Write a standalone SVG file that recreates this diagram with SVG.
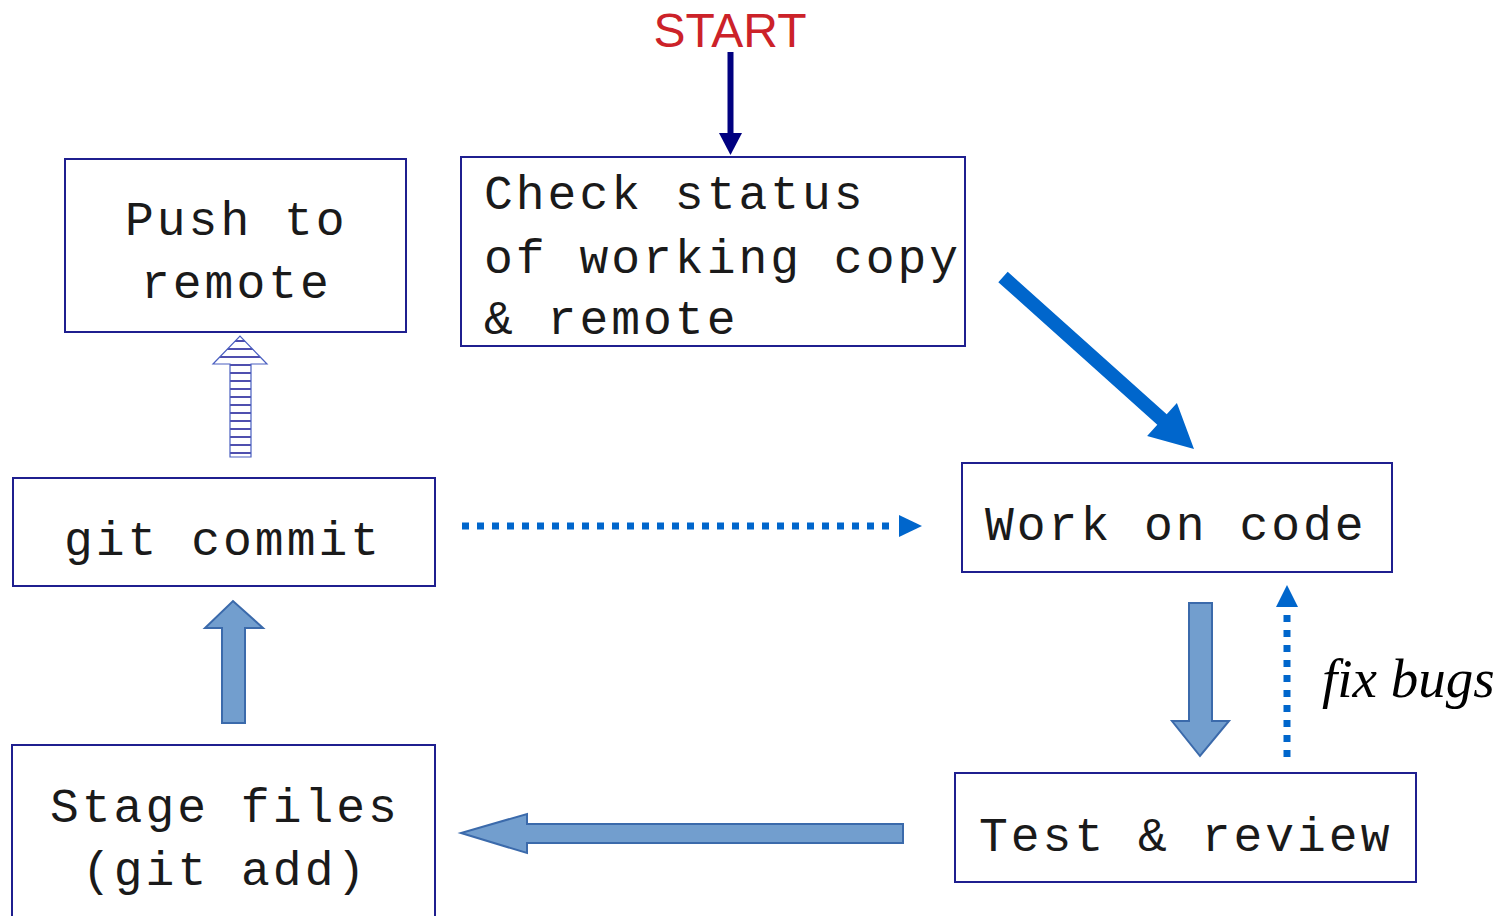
<svg xmlns="http://www.w3.org/2000/svg" width="1510" height="916" viewBox="0 0 1510 916">
  <style>
    .box { fill: #ffffff; stroke: #1f1f8f; stroke-width: 2; }
    .lbl { font-family: "Liberation Mono", "DejaVu Sans Mono", monospace; font-size: 48px; letter-spacing: 3px; fill: #1a1a1a; }
    .fat { fill: #729ece; stroke: #3b6aab; stroke-width: 2; stroke-linejoin: miter; }
    .dots { stroke: #0066cc; stroke-width: 7; stroke-dasharray: 7 8; fill: none; }
    .blue { fill: #0066cc; }
  </style>
  <defs>
    <pattern id="stripes" patternUnits="userSpaceOnUse" x="0" y="1" width="10" height="8">
      <line x1="0" y1="4" x2="10" y2="4" stroke="#22229a" stroke-width="1.6"/>
    </pattern>
  </defs>

  <!-- start label -->
  <text x="730" y="47" text-anchor="middle" font-family="Liberation Sans, Arial, sans-serif" font-size="48" fill="#cc2229">START</text>

  <!-- nodes -->
  <g id="check-status">
    <rect class="box" x="461" y="157" width="504" height="189"/>
    <text class="lbl" x="484" y="209">Check status</text>
    <text class="lbl" x="484" y="273">of working copy</text>
    <text class="lbl" x="484" y="334">&amp; remote</text>
  </g>
  <g id="push-to-remote">
    <rect class="box" x="65" y="159" width="341" height="173"/>
    <text class="lbl" x="125" y="235">Push to</text>
    <text class="lbl" x="141" y="298">remote</text>
  </g>
  <g id="git-commit">
    <rect class="box" x="13" y="478" width="422" height="108"/>
    <text class="lbl" x="64" y="555">git commit</text>
  </g>
  <g id="work-on-code">
    <rect class="box" x="962" y="463" width="430" height="109"/>
    <text class="lbl" x="985" y="540">Work on code</text>
  </g>
  <g id="test-review">
    <rect class="box" x="955" y="773" width="461" height="109"/>
    <text class="lbl" x="979" y="851">Test &amp; review</text>
  </g>
  <g id="stage-files">
    <rect class="box" x="12" y="745" width="423" height="180"/>
    <text class="lbl" x="50" y="822">Stage files</text>
    <text class="lbl" x="82" y="885">(git add)</text>
  </g>

  <!-- connectors -->
  <g id="connectors">
    <!-- start into check status -->
    <rect x="727.5" y="52" width="6" height="82" fill="#000080"/>
    <polygon points="719,133 742,133 730.5,155" fill="#000080"/>

    <!-- check status to work on code -->
    <polygon class="blue" points="1007.7,271.8 1166.7,414.3 1176.9,402.9 1194,449 1147.1,436.1 1157.3,424.7 998.3,282.2"/>

    <!-- work on code to test & review -->
    <polygon class="fat" points="1189,603 1212,603 1212,721 1229,721 1200,756 1172,721 1189,721"/>

    <!-- fix bugs loop -->
    <line class="dots" x1="1287" y1="757" x2="1287" y2="608"/>
    <polygon class="blue" points="1287,585 1298,607 1276,607"/>
    <text x="1322" y="697" font-family="Liberation Serif, Times New Roman, serif" font-style="italic" font-size="55" fill="#000000">fix bugs</text>

    <!-- test & review to stage files -->
    <polygon class="fat" points="903,824 903,843 527,843 527,853 461,833 527,814 527,824"/>

    <!-- stage files to git commit -->
    <polygon class="fat" points="222,723 245,723 245,628 263,628 233,601 205,628 222,628"/>

    <!-- git commit to push -->
    <polygon points="230,457 251,457 251,364 267,364 240,336 213,364 230,364" fill="url(#stripes)" stroke="#4a5fc0" stroke-width="1.2"/>

    <!-- git commit back to work on code -->
    <line class="dots" x1="462" y1="526" x2="897" y2="526"/>
    <polygon class="blue" points="899,515 922,526 899,537"/>
  </g>
</svg>
